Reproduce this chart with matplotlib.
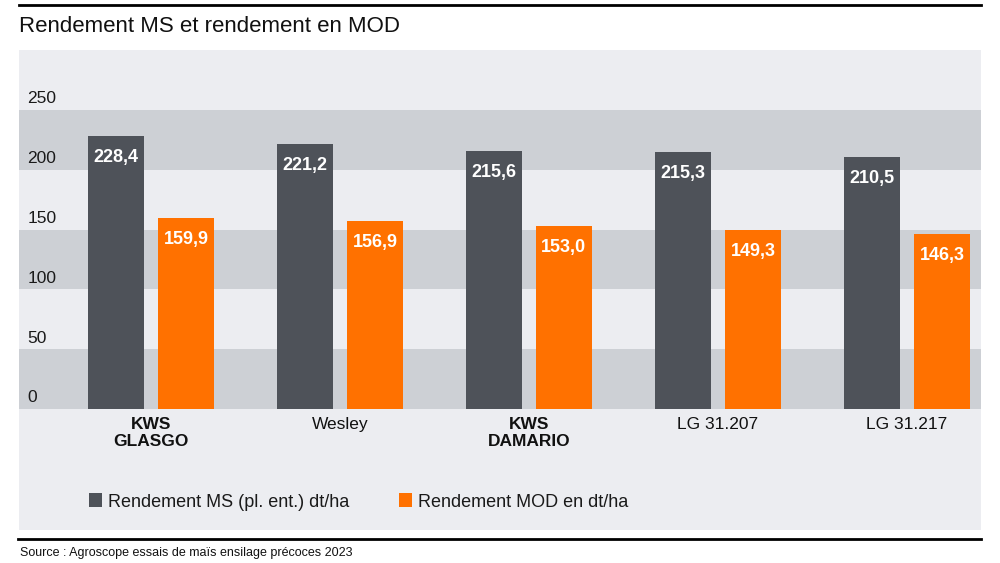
import matplotlib
matplotlib.use("Agg")
import matplotlib.pyplot as plt
import numpy as np
from matplotlib.patches import Patch
from matplotlib.lines import Line2D

plt.rcParams['font.family'] = ['Liberation Sans', 'DejaVu Sans']

categories = ["KWS\nGLASGO", "Wesley", "KWS\nDAMARIO", "LG 31.207", "LG 31.217"]
bold_categories = [True, False, True, False, False]
ms_values = [228.4, 221.2, 215.6, 215.3, 210.5]
mod_values = [159.9, 156.9, 153.0, 149.3, 146.3]
ytick_values = [0, 50, 100, 150, 200, 250]
series_names = ["Rendement MS (pl. ent.) dt/ha", "Rendement MOD en dt/ha"]
title = "Rendement MS et rendement en MOD"
source = "Source : Agroscope essais de maïs ensilage précoces 2023"

GRAY = "#4e5259"
ORANGE = "#ff7100"
BAND_DARK = "#cdd0d5"
BAND_LIGHT = "#ecedf1"

W, H = 1000, 563
fig = plt.figure(figsize=(W / 100, H / 100), dpi=100)

ax = fig.add_axes([19 / W, 1 - 530 / H, 962 / W, 480 / H])
ax.set_facecolor(BAND_LIGHT)
ax.set_xlim(-0.698, 4.392)
ax.set_ylim(-101.2, 300.2)
for s in ax.spines.values():
    s.set_visible(False)
ax.set_xticks([])
ax.set_yticks([])

# bands
for i, lo in enumerate(ytick_values):
    color = BAND_DARK if i % 2 == 0 else BAND_LIGHT
    ax.axhspan(lo, lo + 50, color=color, lw=0, zorder=0)

x = np.arange(len(categories))
bw = 0.296
off = 0.185
ax.bar(x - off, ms_values, width=bw, color=GRAY, zorder=2, lw=0)
ax.bar(x + off, mod_values, width=bw, color=ORANGE, zorder=2, lw=0)

def fmt(v):
    return f"{v:.1f}".replace(".", ",")

for xi, v in zip(x - off, ms_values):
    ax.text(xi, v - 18, fmt(v), ha="center", va="center", color="white",
            fontsize=13, fontweight="bold", zorder=3)
for xi, v in zip(x + off, mod_values):
    ax.text(xi, v - 18, fmt(v), ha="center", va="center", color="white",
            fontsize=13, fontweight="bold", zorder=3)

# y tick labels (above band lines)
for v in ytick_values:
    ax.text(-0.655, v + 3, str(v), ha="left", va="bottom", fontsize=12.5,
            color="#1a1a1a", zorder=3)

# category labels
for xi, lab, b in zip(x, categories, bold_categories):
    ax.text(xi, -7, lab, ha="center", va="top", fontsize=12.5,
            fontweight="bold" if b else "normal", color="#111111",
            linespacing=1.15, zorder=3)

# legend
handles = [Patch(facecolor=GRAY, edgecolor="none"), Patch(facecolor=ORANGE, edgecolor="none")]
leg = fig.legend(handles, series_names, loc="center left",
                 bbox_to_anchor=(89 / W, 1 - 502 / H), ncol=2, frameon=False,
                 fontsize=13, handlelength=0.72, handleheight=0.78,
                 handletextpad=0.33, columnspacing=2.75, borderaxespad=0,
                 borderpad=0)
for t in leg.get_texts():
    t.set_color("#1a1a1a")

# title
fig.text(19 / W, 1 - 26 / H, title, ha="left", va="center", fontsize=16, color="#111111")

# top and bottom rules
fig.add_artist(Line2D([19 / W, 981 / W], [1 - 5 / H, 1 - 5 / H], color="black", lw=2))
fig.add_artist(Line2D([18 / W, 981 / W], [1 - 539 / H, 1 - 539 / H], color="black", lw=2))

fig.text(20 / W, 1 - 553 / H, source, ha="left", va="center", fontsize=9, color="#111111")

fig.savefig("out.png", dpi=100, facecolor="white")
